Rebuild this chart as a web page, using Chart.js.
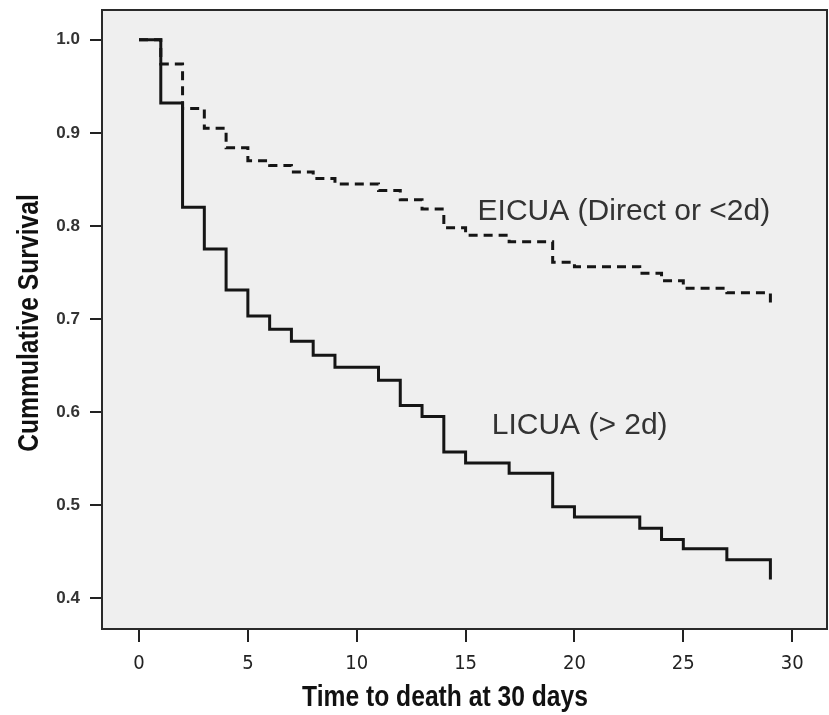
<!DOCTYPE html>
<html>
<head>
<meta charset="utf-8">
<script src="https://cdn.jsdelivr.net/npm/chart.js@4.4.1/dist/chart.umd.min.js"></script>
<style>
  html, body { margin: 0; padding: 0; background: #ffffff; }
  #wrap { width: 829px; height: 715px; }
</style>
</head>
<body>
<div id="wrap"><canvas id="km"></canvas></div>
<script>
// Kaplan-Meier steps (day, survival after that day)
const licuaDays = [0, 1, 2, 3, 4, 5, 6, 7, 8, 9, 11, 12, 13, 14, 15, 17, 19, 20, 23, 24, 25, 27, 29];
const licuaSurv = [1.0, 0.932, 0.820, 0.775, 0.731, 0.703, 0.689, 0.676, 0.661, 0.648, 0.634, 0.607, 0.595, 0.557, 0.545, 0.534, 0.498, 0.487, 0.475, 0.463, 0.453, 0.441, 0.420];

const eicuaDays = [0, 1, 2, 3, 4, 5, 6, 7, 8, 9, 11, 12, 13, 14, 15, 17, 19, 20, 23, 24, 25, 27, 29];
const eicuaSurv = [1.0, 0.974, 0.926, 0.905, 0.884, 0.870, 0.865, 0.858, 0.851, 0.845, 0.838, 0.828, 0.818, 0.798, 0.790, 0.783, 0.761, 0.756, 0.749, 0.741, 0.733, 0.728, 0.717];

const xTicks = [0, 5, 10, 15, 20, 25, 30];
const yTicks = [0.4, 0.5, 0.6, 0.7, 0.8, 0.9, 1.0];

const seriesNames = ['LICUA (> 2d)', 'EICUA (Direct or <2d)'];
const xTitle = 'Time to death at 30 days';
const yTitle = 'Cummulative Survival';

const narrow = "'Liberation Sans Narrow', 'DejaVu Sans Condensed', sans-serif";
const sans = "'Liberation Sans', Arial, sans-serif";

function toPoints(days, surv) {
    var pts = [];
    for (let i = 0; i < days.length; i++) {
        pts.push({ x: days[i], y: surv[i] });
    }
    return pts;
}

// grey plot box, frame, curve labels and the (narrow) axis titles
const framePlugin = {
    id: 'frame',
    beforeDraw(chart) {
        const { ctx, chartArea: a } = chart;
        ctx.save();
        ctx.fillStyle = '#ffffff';
        ctx.fillRect(0, 0, chart.width, chart.height);
        ctx.fillStyle = '#efefef';
        ctx.fillRect(a.left, a.top, a.right - a.left, a.bottom - a.top);
        ctx.restore();
    },
    afterDatasetsDraw(chart, args, opts) {
        const { ctx, chartArea: a, scales } = chart;
        ctx.save();
        ctx.strokeStyle = '#2a2a2a';
        ctx.lineWidth = 2;
        ctx.strokeRect(a.left, a.top, a.right - a.left, a.bottom - a.top);

        ctx.fillStyle = '#333333';
        ctx.font = '30px ' + sans;
        ctx.textBaseline = 'alphabetic';
        opts.labels.forEach(l => {
            ctx.fillText(l.text, scales.x.getPixelForValue(l.x), scales.y.getPixelForValue(l.y));
        });
        ctx.restore();
    },
    afterDraw(chart, args, opts) {
        const ctx = chart.ctx;
        ctx.save();
        ctx.fillStyle = '#111111';
        ctx.font = 'bold 29px ' + sans;
        ctx.textAlign = 'center';
        ctx.textBaseline = 'middle';

        ctx.save();
        ctx.translate(opts.xTitle.x, opts.xTitle.y);
        ctx.scale(0.85, 1);
        ctx.fillText(xTitle, 0, 0);
        ctx.restore();

        ctx.save();
        ctx.translate(opts.yTitle.x, opts.yTitle.y);
        ctx.rotate(-Math.PI / 2);
        ctx.scale(0.85, 1);
        ctx.fillText(yTitle, 0, 0);
        ctx.restore();

        ctx.restore();
    }
};

new Chart(document.getElementById('km'), {
    type: 'line',
    data: {
        datasets: [
            {
                label: seriesNames[0],
                data: toPoints(licuaDays, licuaSurv),
                borderColor: '#151515',
                borderWidth: 3,
                stepped: 'before',
                pointRadius: 0,
                fill: false
            },
            {
                label: seriesNames[1],
                data: toPoints(eicuaDays, eicuaSurv),
                borderColor: '#151515',
                borderWidth: 3,
                borderDash: [9, 6],
                stepped: 'before',
                pointRadius: 0,
                fill: false
            }
        ]
    },
    options: {
        responsive: true,
        maintainAspectRatio: false,
        animation: false,
        layout: { padding: { top: 0, right: 2, left: 0, bottom: 0 } },
        plugins: {
            legend: { display: false },
            tooltip: { enabled: false },
            frame: {
                labels: [
                    { text: seriesNames[1], x: 15.55, y: 0.806 },
                    { text: seriesNames[0], x: 16.2, y: 0.576 }
                ],
                xTitle: { x: 445, y: 698 },
                yTitle: { x: 30, y: 323 }
            }
        },
        scales: {
            x: {
                type: 'linear',
                min: -1.7,
                max: 31.6,
                afterBuildTicks: scale => { scale.ticks = xTicks.map(v => ({ value: v })); },
                afterFit: scale => { scale.height = 86; },
                border: { display: false },
                grid: { drawOnChartArea: false, drawTicks: true, tickLength: 13, color: '#222', lineWidth: 2 },
                ticks: {
                    color: '#222',
                    padding: 10,
                    maxRotation: 0,
                    font: { family: narrow, size: 20 }
                }
            },
            y: {
                type: 'linear',
                min: 0.3667,
                max: 1.032,
                afterBuildTicks: scale => { scale.ticks = yTicks.map(v => ({ value: v })); },
                afterFit: scale => {
                    scale.width = 102;
                    scale.paddingTop = 10;
                    scale.paddingBottom = 0;
                },
                border: { display: false },
                grid: { drawOnChartArea: false, drawTicks: true, tickLength: 12, color: '#222', lineWidth: 2 },
                ticks: {
                    color: '#333',
                    padding: 10,
                    font: { family: sans, size: 17, weight: 'bold' },
                    callback: v => v.toFixed(1)
                }
            }
        }
    },
    plugins: [framePlugin]
});
</script>
</body>
</html>
